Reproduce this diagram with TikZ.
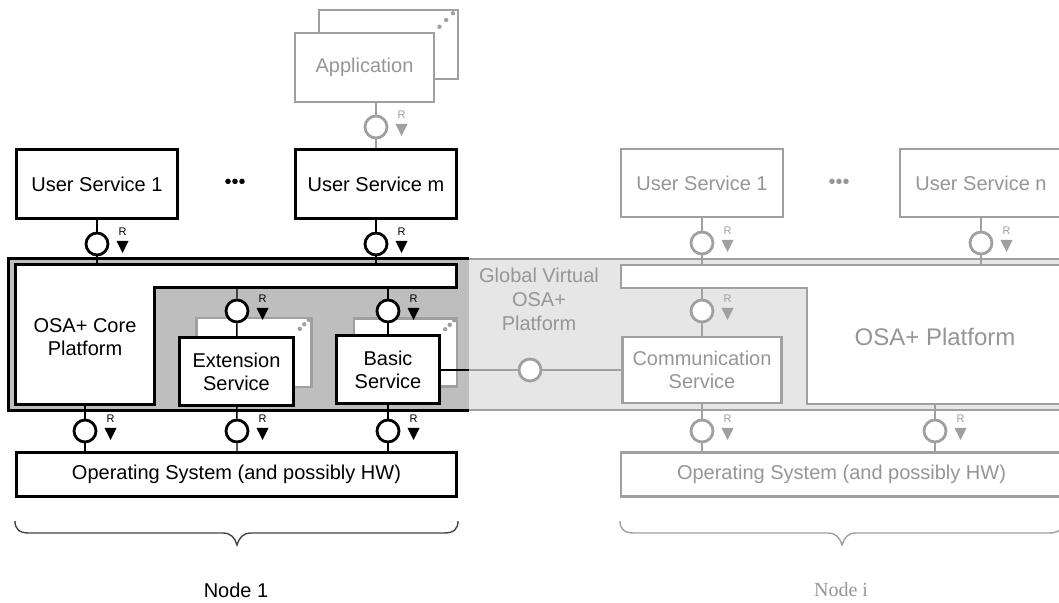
\documentclass[tikz,border=0pt]{standalone}
\usepackage{fontspec}
\setmainfont{Liberation Sans}
\newfontfamily\captionserif{Liberation Serif}

\definecolor{ghost}{RGB}{160,160,160}
\definecolor{ghosttext}{RGB}{150,150,150}
\definecolor{hazefill}{RGB}{230,230,230}
\definecolor{corefill}{RGB}{190,190,190}
\definecolor{bracecol}{RGB}{70,70,70}

% service interface: circle plug, small down triangle and the letter R
\newcommand\lollipop[4]{%
  \node[plug=#4] (#1) at (#2,#3) {};
  \fill[#4] ([shift={(19.5,-3)}]#1.center) -- ([shift={(31.5,-3)}]#1.center)
            -- ([shift={(25.5,9)}]#1.center) -- cycle;
  \node[rmark,text=#4] at ([shift={(25.5,-12.5)}]#1.center) {R};
}

\begin{document}
\begin{tikzpicture}[x=0.5pt,y=-0.5pt,
  box/.style={draw, fill=white, line width=1.5pt, align=center,
              font=\fontsize{10}{11.5}\selectfont, inner sep=0pt},
  ghostbox/.style={box, draw=ghost, text=ghosttext, line width=1.2pt},
  backbox/.style={draw=ghost, fill=white, line width=1.2pt, inner sep=0pt},
  plug/.style={circle, draw=#1, fill=white, line width=1.4pt,
               minimum size=11pt, inner sep=0pt},
  rmark/.style={font=\fontsize{5.5}{6}\selectfont, inner sep=0pt},
  link/.style={line width=0.7pt},
  ghostlink/.style={line width=0.7pt, draw=ghost},
  txt/.style={align=center, font=\fontsize{10}{11.5}\selectfont, inner sep=0pt},
  brace/.style={line width=0.7pt}
]
\clip (0,0) rectangle (1059,603);
\fill[white] (0,0) rectangle (1059,603);

% ---------- global virtual platform band ----------
\fill[hazefill] (469,259) rectangle (1075,410);
\draw[ghost, line width=1.2pt] (469,259) -- (1075,259);
\draw[ghost, line width=1.2pt] (469,410) -- (1075,410);

% ---------- node 1 platform ----------
\fill[corefill] (8,258.5) rectangle (469,410.5);
\draw[line width=1.5pt] (469,258.5) -- (8,258.5) -- (8,410.5) -- (469,410.5);
\draw[line width=1.5pt, fill=white]
  (15,264.5) -- (456.5,264.5) -- (456.5,288) -- (154,288) -- (154,404.5) -- (15,404.5) -- cycle;
\node[txt] (coretxt) at (85,337) {OSA+ Core\\Platform};

% ---------- node i platform ----------
\draw[ghost, line width=1.2pt, fill=white]
  (621,265) -- (1075,265) -- (1075,404) -- (807,404) -- (807,288) -- (621,288) -- cycle;
\node[txt, text=ghosttext, font=\fontsize{12}{14}\selectfont] (osatxt) at (935,337) {OSA+ Platform};
\node[txt, text=ghosttext, font=\fontsize{10}{12}\selectfont] (globtxt) at (539,299)
  {Global Virtual\\OSA+\\Platform};

% ---------- stacked (multiple instance) boxes ----------
\node[backbox, minimum width=69.25pt, minimum height=34.5pt] (appb) at (388.5,44.5) {};
\node[backbox, minimum width=57.5pt, minimum height=34.5pt] (extb) at (254,352.5) {};
\node[backbox, minimum width=51.5pt, minimum height=34pt] (basb) at (405.5,352.5) {};
\foreach \b/\s in {appb/1.5, extb/1, basb/1}{
  \fill[ghost] ([shift={(-13*\s,12*\s)}]\b.north east) circle (1.1pt);
  \fill[ghost] ([shift={(-8.5*\s,7.5*\s)}]\b.north east) circle (1.1pt);
  \fill[ghost] ([shift={(-4*\s,3*\s)}]\b.north east) circle (1.1pt);
}

% ---------- boxes of node 1 ----------
\node[box, minimum width=80.5pt, minimum height=34.5pt] (us1) at (97,184) {User Service 1};
\node[box, minimum width=80.5pt, minimum height=34.5pt] (usm) at (376,184) {User Service m};
\node[txt] (dots1) at (235,184) {•••};
\node[box, minimum width=57pt, minimum height=34pt] (ext) at (236.5,371.5) {Extension\\Service};
\node[box, minimum width=51.5pt, minimum height=34pt] (bas) at (388,370) {Basic\\Service};
\node[box, minimum width=220pt, minimum height=22pt] (os1) at (236.5,474.5) {Operating System (and possibly HW)};

% ---------- boxes of node i ----------
\node[ghostbox, minimum width=69.25pt, minimum height=34.25pt] (app) at (364.5,67.5) {Application};
\node[ghostbox, minimum width=81pt, minimum height=34pt] (rus1) at (702,183) {User Service 1};
\node[ghostbox, minimum width=81pt, minimum height=34pt] (rusn) at (981,183) {User Service n};
\node[txt, text=ghosttext] (dots2) at (839,184) {•••};
\node[ghostbox, minimum width=79.5pt, minimum height=33pt] (comm) at (702,370) {Communication\\Service};
\node[ghostbox, minimum width=220.5pt, minimum height=22pt] (os2) at (841.5,474.5) {Operating System (and possibly HW)};

% ---------- interfaces ----------
\lollipop{pa}{376}{127}{ghost}
\lollipop{p1}{97}{244}{black}
\lollipop{p2}{376}{244}{black}
\lollipop{p3}{237}{311}{black}
\lollipop{p4}{388}{311}{black}
\lollipop{p5}{85}{431}{black}
\lollipop{p6}{237}{431}{black}
\lollipop{p7}{388}{431}{black}
\lollipop{q1}{702}{243}{ghost}
\lollipop{q2}{981}{243}{ghost}
\lollipop{q3}{702}{311}{ghost}
\lollipop{q4}{702}{431}{ghost}
\lollipop{q5}{935}{431}{ghost}
\node[plug=ghost] (pm) at (530,370) {};

% ---------- anchor points on the platform outlines ----------
\coordinate (t1) at (97,264.5);
\coordinate (t2) at (376,264.5);
\coordinate (k3) at (237,288);
\coordinate (k4) at (388,288);
\coordinate (k5) at (85,404.5);
\coordinate (o5) at (85,451);
\coordinate (o6) at (237,451);
\coordinate (o7) at (388,451);
\coordinate (split) at (469,370);
\coordinate (u1) at (702,265);
\coordinate (u2) at (981,265);
\coordinate (u3) at (702,288);
\coordinate (v4) at (702,451);
\coordinate (w5) at (935,404);
\coordinate (v5) at (935,451);

% ---------- connectors of node 1 ----------
\draw[link] (us1) -- (p1) -- (t1);
\draw[link] (usm) -- (p2) -- (t2);
\draw[link] (k3) -- (p3) -- (ext);
\draw[link] (k4) -- (p4) -- (bas);
\draw[link] (k5) -- (p5) -- (o5);
\draw[link] (ext) -- (p6) -- (o6);
\draw[link] (bas) -- (p7) -- (o7);
\draw[link] (bas.east) -- (split);

% ---------- connectors of node i ----------
\draw[ghostlink] (split) -- (pm) -- (comm);
\draw[ghostlink] (app.south -| pa) -- (pa) -- (usm);
\draw[ghostlink] (rus1) -- (q1) -- (u1);
\draw[ghostlink] (rusn) -- (q2) -- (u2);
\draw[ghostlink] (u3) -- (q3) -- (comm);
\draw[ghostlink] (comm) -- (q4) -- (v4);
\draw[ghostlink] (w5) -- (q5) -- (v5);

% ---------- braces and node captions ----------
\draw[brace, bracecol]
  (15,521) .. controls (15,529) and (19,533) .. (29,533) -- (223,533)
  .. controls (231,533) and (235,538) .. (237,545)
  .. controls (239,538) and (243,533) .. (251,533) -- (444,533)
  .. controls (454,533) and (458,529) .. (458,521);
\draw[brace, ghost]
  (620,521) .. controls (620,529) and (624,533) .. (634,533) -- (828,533)
  .. controls (836,533) and (840,538) .. (842,545)
  .. controls (844,538) and (848,533) .. (856,533) -- (1049,533)
  .. controls (1059,533) and (1063,529) .. (1063,521);
\node[txt] (cap1) at (236,590) {Node 1};
\node[txt, text=ghosttext, font=\captionserif\fontsize{10}{12}\selectfont] (capi) at (841,590) {Node i};
\end{tikzpicture}
\end{document}
